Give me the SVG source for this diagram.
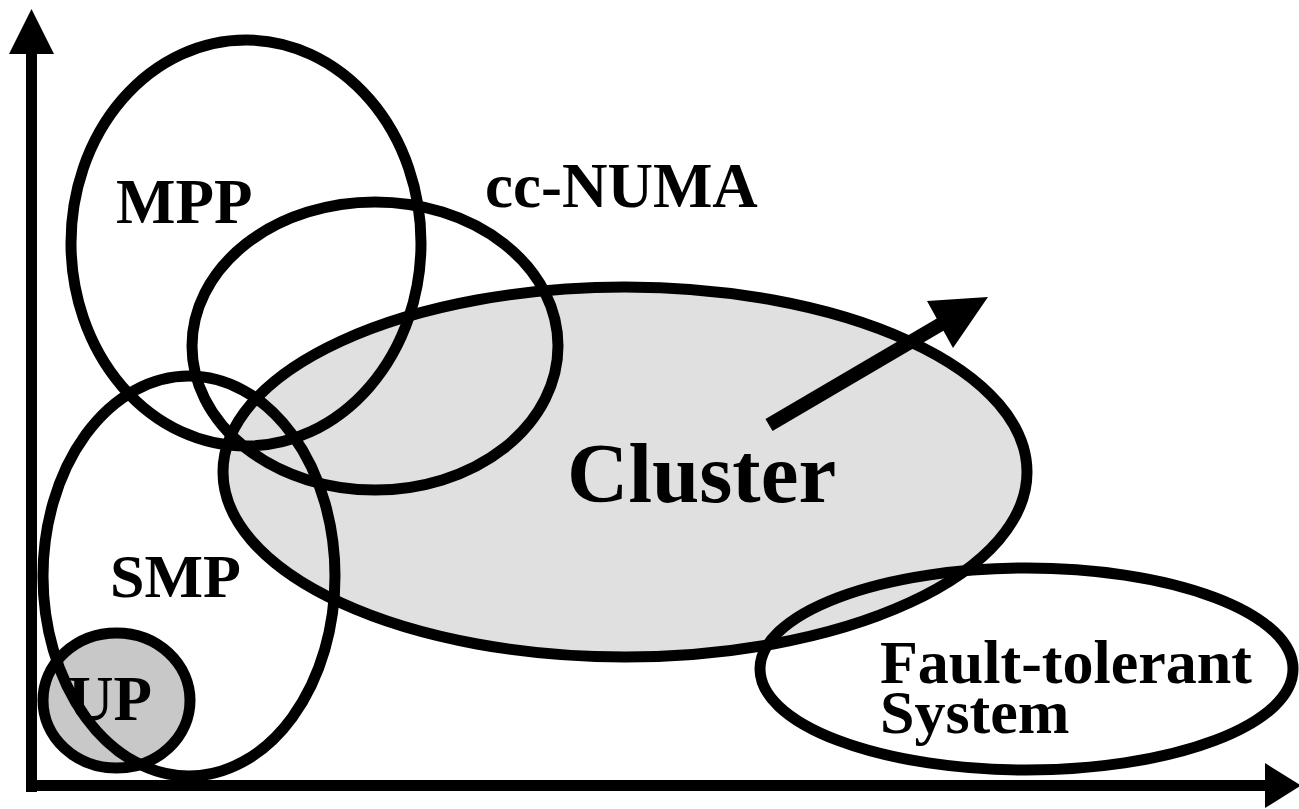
<svg xmlns="http://www.w3.org/2000/svg" width="1299" height="809" viewBox="0 0 1299 809">
  <style>
    .ring { fill: none; stroke: #000; stroke-width: 11; }
    .lbl { font-family: "Liberation Serif", "Times New Roman", serif; font-weight: bold; fill: #000; }
    .axis { stroke: #000; stroke-width: 11; fill: none; }
    .head { fill: #000; stroke: none; }
  </style>
  <rect x="0" y="0" width="1299" height="809" fill="#fff"/>

  <g id="cluster">
    <ellipse cx="625" cy="472" rx="402" ry="185" fill="#e0e0e0" stroke="#000" stroke-width="11"/>
    <text class="lbl" x="567" y="502" font-size="85">Cluster</text>
  </g>

  <g id="up">
    <ellipse cx="116.5" cy="700.5" rx="73.5" ry="67.5" fill="#c8c8c8" stroke="#000" stroke-width="11"/>
    <text class="lbl" x="68" y="720" font-size="63">UP</text>
  </g>

  <g id="mpp">
    <ellipse class="ring" cx="246" cy="243" rx="175" ry="203"/>
    <text class="lbl" x="116" y="223" font-size="63">MPP</text>
  </g>

  <g id="cc-numa">
    <ellipse class="ring" cx="375" cy="346" rx="183" ry="144"/>
    <text class="lbl" x="485" y="207" font-size="63">cc-NUMA</text>
  </g>

  <g id="smp">
    <ellipse class="ring" cx="189" cy="576" rx="146" ry="200"/>
    <text class="lbl" x="110" y="597" font-size="62">SMP</text>
  </g>

  <g id="fault-tolerant">
    <ellipse class="ring" cx="1026.5" cy="669" rx="266.5" ry="101"/>
    <text class="lbl" x="880" y="683" font-size="62">Fault-tolerant</text>
    <text class="lbl" x="880" y="733" font-size="62">System</text>
  </g>

  <!-- axes and trend arrow, drawn over the regions -->
  <g id="connectors">
    <line class="axis" x1="31.5" y1="792" x2="31.5" y2="52"/>
    <polygon class="head" points="9,54 31.5,9 54,54"/>
    <line class="axis" x1="26" y1="785.5" x2="1267" y2="785.5"/>
    <polygon class="head" points="1265,763 1301,785.5 1265,808"/>
    <line x1="769" y1="425" x2="942" y2="323.5" stroke="#000" stroke-width="14"/>
    <polygon class="head" points="988,297 927,301 953,348"/>
  </g>
</svg>
